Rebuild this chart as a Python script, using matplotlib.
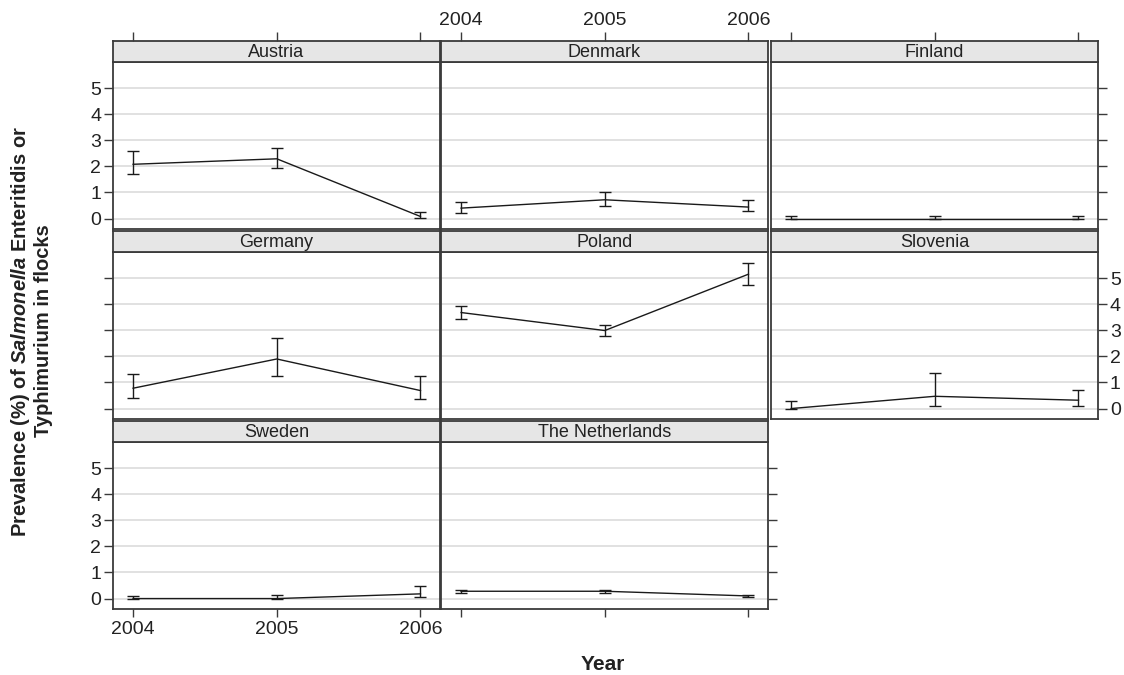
import matplotlib.pyplot as plt
import numpy as np

plt.rcParams['font.family'] = ['Liberation Sans', 'DejaVu Sans']
plt.rcParams['mathtext.fontset'] = 'custom'
plt.rcParams['mathtext.bfit'] = 'Liberation Sans:italic:bold'
plt.rcParams['mathtext.it'] = 'Liberation Sans:italic'

# data
years = [2004, 2005, 2006]
countries = ['Austria', 'Denmark', 'Finland', 'Germany', 'Poland',
             'Slovenia', 'Sweden', 'The Netherlands']
prevalence = [
    [2.08, 2.29, 0.08],
    [0.40, 0.72, 0.44],
    [0.00, 0.00, 0.00],
    [0.78, 1.90, 0.69],
    [3.68, 2.99, 5.15],
    [0.00, 0.47, 0.32],
    [0.00, 0.00, 0.18],
    [0.28, 0.28, 0.10],
]
ci_low = [
    [1.70, 1.92, 0.02],
    [0.23, 0.49, 0.30],
    [0.00, 0.00, 0.00],
    [0.39, 1.25, 0.36],
    [3.42, 2.77, 4.75],
    [0.00, 0.09, 0.09],
    [0.00, 0.00, 0.05],
    [0.22, 0.23, 0.07],
]
ci_high = [
    [2.60, 2.70, 0.27],
    [0.64, 1.00, 0.72],
    [0.10, 0.10, 0.10],
    [1.33, 2.72, 1.24],
    [3.92, 3.22, 5.59],
    [0.29, 1.36, 0.71],
    [0.09, 0.12, 0.47],
    [0.34, 0.33, 0.13],
]
y_ticks = [0, 1, 2, 3, 4, 5]

W, H = 1124, 675
fig = plt.figure(figsize=(W / 100, H / 100), dpi=100)

col_left = [113, 441, 771]
panel_w = 327
row_top = [41, 231, 421]
strip_h = 21
panel_h = 167

frame_col = '#3a3a3a'
text_col = '#222222'
tick_size = 14

# (left ticks, left labels, right ticks, right labels, top ticks, top labels, bottom ticks, bottom labels)
tick_setup = {
    'Austria':         (1, 1, 0, 0, 1, 0, 0, 0),
    'Denmark':         (0, 0, 0, 0, 1, 1, 0, 0),
    'Finland':         (0, 0, 1, 0, 1, 0, 0, 0),
    'Germany':         (1, 0, 0, 0, 0, 0, 0, 0),
    'Poland':          (0, 0, 0, 0, 0, 0, 0, 0),
    'Slovenia':        (0, 0, 1, 1, 0, 0, 0, 0),
    'Sweden':          (1, 1, 0, 0, 0, 0, 1, 1),
    'The Netherlands': (0, 0, 1, 0, 0, 0, 1, 0),
}


def px_box(x, y, w, h):
    return [x / W, 1 - (y + h) / H, w / W, h / H]


xlim = (2003.86, 2006.136)
ylim = (-0.4, 6.0)

for i, name in enumerate(countries):
    r, c = divmod(i, 3)
    x0 = col_left[c]
    y0 = row_top[r]
    lt, ll, rt, rl, tt, tl, bt, bl = tick_setup[name]

    ax = fig.add_axes(px_box(x0, y0 + strip_h, panel_w, panel_h))
    ax.set_xlim(*xlim)
    ax.set_ylim(*ylim)
    for yv in y_ticks:
        ax.axhline(yv, color='#dcdcdc', lw=1.2, zorder=0)
    vals = np.array(prevalence[i])
    lo = vals - np.array(ci_low[i])
    hi = np.array(ci_high[i]) - vals
    ax.errorbar(years, vals, yerr=[lo, hi], color='#1a1a1a', lw=1.0,
                elinewidth=1.0, capsize=4.5, capthick=1.0)
    for s in ax.spines.values():
        s.set_color(frame_col)
        s.set_linewidth(1.3)

    ax.set_yticks(y_ticks)
    ax.set_xticks(years)
    ax.tick_params(axis='y', direction='out', length=6.5, width=1, color=frame_col,
                   labelsize=tick_size, labelcolor=text_col, pad=2,
                   left=bool(lt), labelleft=bool(ll),
                   right=bool(rt), labelright=bool(rl))
    ax.tick_params(axis='x', direction='out', length=6, width=1, color=frame_col,
                   labelsize=tick_size, labelcolor=text_col, pad=3,
                   top=False, labeltop=False,
                   bottom=bool(bt), labelbottom=bool(bl))

    # strip with panel title
    sx = fig.add_axes(px_box(x0, y0, panel_w, strip_h))
    sx.set_xlim(*xlim)
    sx.set_ylim(0, 1)
    sx.set_facecolor('#e6e6e6')
    for s in sx.spines.values():
        s.set_color(frame_col)
        s.set_linewidth(1.3)
    sx.set_yticks([])
    sx.set_xticks(years)
    sx.tick_params(axis='x', direction='out', length=6.5, width=1, color=frame_col,
                   labelsize=tick_size, labelcolor=text_col, pad=2,
                   bottom=False, labelbottom=False,
                   top=bool(tt), labeltop=bool(tl))
    sx.text(0.5, 0.45, name, transform=sx.transAxes, ha='center', va='center',
            fontsize=13, color=text_col)

fig.text(31 / W, 1 - 331 / H,
         'Prevalence (%) of $\\mathbfit{Salmonella}$ Enteritidis or\nTyphimurium in flocks',
         rotation=90, ha='center', va='center', ma='center',
         fontsize=14.5, fontweight='bold', color=text_col, linespacing=1.15)
fig.text(603 / W, 1 - 664 / H, 'Year', ha='center', va='center',
         fontsize=15, fontweight='bold', color=text_col)

fig.savefig('out.png', dpi=100)
